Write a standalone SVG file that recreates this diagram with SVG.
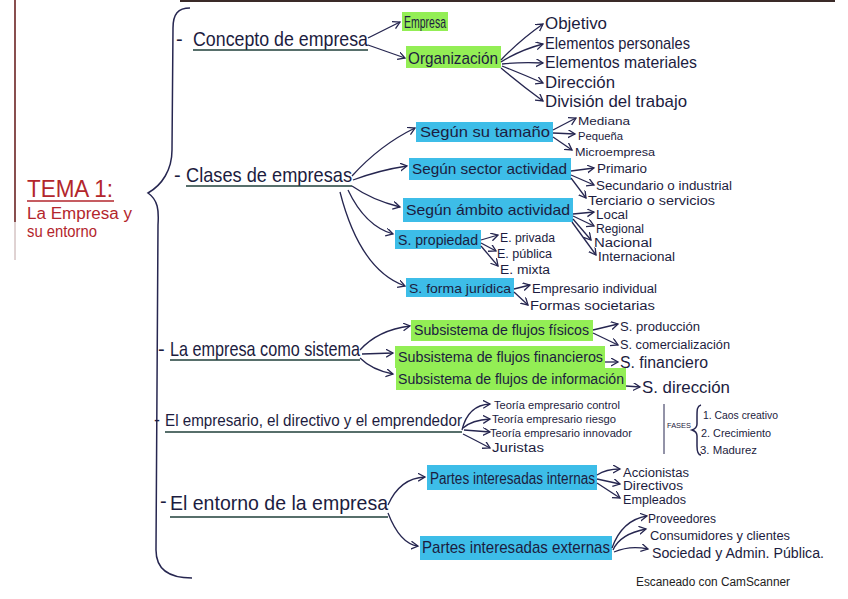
<svg xmlns="http://www.w3.org/2000/svg" width="848" height="599" viewBox="0 0 848 599">
<defs>
<marker id="ah" markerUnits="userSpaceOnUse" markerWidth="10" markerHeight="10" refX="7" refY="4" orient="auto">
<path d="M0,0 L7,4 L0,8" fill="none" stroke="#262650" stroke-width="1.3"/>
</marker>
<style>
text{font-family:"Liberation Sans","DejaVu Sans",sans-serif;fill:#1c1c40}
.l1{font-size:21px}
.red{fill:#b3262c}
.hg{fill:#93ee55}
.hb{fill:#3dbde8}
.c path{fill:none;stroke:#262650;stroke-width:1.3;marker-end:url(#ah)}
.ul{stroke:#1f3f3a;stroke-width:1.6}
.br{fill:none;stroke:#262650;stroke-width:1.5}
</style>
</defs>
<rect width="848" height="599" fill="#ffffff"/>
<rect x="180" y="0" width="655" height="2" fill="#3a2a28"/>
<line x1="15" y1="0" x2="15" y2="222" stroke="#6b2222" stroke-width="1.6"/>
<line x1="15" y1="222" x2="15" y2="260" stroke="#b09090" stroke-width="0.8"/>

<g id="title">
<text x="27" y="197" class="red" font-size="24" textLength="86" lengthAdjust="spacingAndGlyphs">TEMA 1:</text>
<line x1="27" y1="201" x2="114" y2="201" stroke="#b3262c" stroke-width="1.3"/>
<text x="27" y="219" class="red" font-size="16" textLength="105" lengthAdjust="spacingAndGlyphs">La Empresa y</text>
<text x="27" y="237" class="red" font-size="16" textLength="70" lengthAdjust="spacingAndGlyphs">su entorno</text>
</g>

<g id="brace">
<path class="br" d="M190 8 C178 8 173 14 173 28 L172 150 C172 170 162 185 148 193 C158 200 159 210 158 225 L156 550 C156 570 170 578 192 578"/>
</g>

<g id="concepto">
<text x="176" y="46" font-size="20">-</text>
<text x="193" y="46" class="l1" textLength="175" lengthAdjust="spacingAndGlyphs">Concepto de empresa</text>
<line class="ul" x1="193" y1="50" x2="368" y2="50"/>
</g>
<g id="empresa"><rect class="hg" x="402" y="12" width="46" height="19"/><text x="404" y="28" font-size="17" textLength="42" lengthAdjust="spacingAndGlyphs">Empresa</text></g>
<g id="organizacion"><rect class="hg" x="406" y="46" width="95" height="22"/><text x="408" y="64" font-size="17" textLength="90" lengthAdjust="spacingAndGlyphs">Organización</text></g>
<g id="objetivo"><text x="545" y="29" font-size="17" textLength="62" lengthAdjust="spacingAndGlyphs">Objetivo</text></g>
<g id="elem-personales"><text x="545" y="49" font-size="17" textLength="145" lengthAdjust="spacingAndGlyphs">Elementos personales</text></g>
<g id="elem-materiales"><text x="545" y="68" font-size="17" textLength="152" lengthAdjust="spacingAndGlyphs">Elementos materiales</text></g>
<g id="direccion"><text x="545" y="88" font-size="17" textLength="70" lengthAdjust="spacingAndGlyphs">Dirección</text></g>
<g id="division"><text x="545" y="107" font-size="17" textLength="142" lengthAdjust="spacingAndGlyphs">División del trabajo</text></g>

<g id="clases">
<text x="174" y="182" font-size="20">-</text>
<text x="186" y="182" class="l1" textLength="166" lengthAdjust="spacingAndGlyphs">Clases de empresas</text>
<line class="ul" x1="186" y1="186" x2="352" y2="186"/>
</g>
<g id="tamano"><rect class="hb" x="416" y="122" width="137" height="20"/><text x="420" y="137" font-size="15" textLength="130" lengthAdjust="spacingAndGlyphs">Según su tamaño</text></g>
<g id="mediana"><text x="578" y="125" font-size="11" textLength="52" lengthAdjust="spacingAndGlyphs">Mediana</text></g>
<g id="pequena"><text x="578" y="140" font-size="11" textLength="45" lengthAdjust="spacingAndGlyphs">Pequeña</text></g>
<g id="micro"><text x="575" y="156" font-size="11" textLength="80" lengthAdjust="spacingAndGlyphs">Microempresa</text></g>
<g id="sector"><rect class="hb" x="409" y="158" width="162" height="22"/><text x="412" y="174" font-size="15" textLength="155" lengthAdjust="spacingAndGlyphs">Según sector actividad</text></g>
<g id="primario"><text x="597" y="173" font-size="12" textLength="50" lengthAdjust="spacingAndGlyphs">Primario</text></g>
<g id="secundario"><text x="596" y="190" font-size="12" textLength="136" lengthAdjust="spacingAndGlyphs">Secundario o industrial</text></g>
<g id="terciario"><text x="588" y="205" font-size="12" textLength="127" lengthAdjust="spacingAndGlyphs">Terciario o servicios</text></g>
<g id="ambito"><rect class="hb" x="403" y="198" width="170" height="24"/><text x="406" y="215" font-size="15" textLength="164" lengthAdjust="spacingAndGlyphs">Según ámbito actividad</text></g>
<g id="local"><text x="596" y="219" font-size="12" textLength="32" lengthAdjust="spacingAndGlyphs">Local</text></g>
<g id="regional"><text x="596" y="233" font-size="12" textLength="48" lengthAdjust="spacingAndGlyphs">Regional</text></g>
<g id="nacional"><text x="594" y="247" font-size="12" textLength="58" lengthAdjust="spacingAndGlyphs">Nacional</text></g>
<g id="internacional"><text x="598" y="261" font-size="12" textLength="77" lengthAdjust="spacingAndGlyphs">Internacional</text></g>
<g id="propiedad"><rect class="hb" x="395" y="230" width="86" height="19"/><text x="398" y="245" font-size="14" textLength="80" lengthAdjust="spacingAndGlyphs">S. propiedad</text></g>
<g id="privada"><text x="500" y="242" font-size="12" textLength="55" lengthAdjust="spacingAndGlyphs">E. privada</text></g>
<g id="publica"><text x="497" y="258" font-size="12" textLength="55" lengthAdjust="spacingAndGlyphs">E. pública</text></g>
<g id="mixta"><text x="500" y="274" font-size="12" textLength="50" lengthAdjust="spacingAndGlyphs">E. mixta</text></g>
<g id="juridica"><rect class="hb" x="406" y="278" width="108" height="19"/><text x="409" y="293" font-size="13" textLength="102" lengthAdjust="spacingAndGlyphs">S. forma jurídica</text></g>
<g id="individual"><text x="532" y="293" font-size="12" textLength="125" lengthAdjust="spacingAndGlyphs">Empresario individual</text></g>
<g id="societarias"><text x="530" y="310" font-size="12" textLength="125" lengthAdjust="spacingAndGlyphs">Formas societarias</text></g>

<g id="sistema">
<text x="158" y="356" font-size="20">-</text>
<text x="170" y="356" class="l1" textLength="190" lengthAdjust="spacingAndGlyphs">La empresa como sistema</text>
<line class="ul" x1="170" y1="360" x2="360" y2="360"/>
</g>
<g id="fisicos"><rect class="hg" x="411" y="320" width="182" height="21"/><text x="414" y="335" font-size="14" textLength="175" lengthAdjust="spacingAndGlyphs">Subsistema de flujos físicos</text></g>
<g id="produccion"><text x="620" y="331" font-size="13" textLength="80" lengthAdjust="spacingAndGlyphs">S. producción</text></g>
<g id="comercializacion"><text x="620" y="349" font-size="12" textLength="110" lengthAdjust="spacingAndGlyphs">S. comercialización</text></g>
<g id="financieros"><rect class="hg" x="395" y="346" width="210" height="22"/><text x="398" y="362" font-size="15" textLength="205" lengthAdjust="spacingAndGlyphs">Subsistema de flujos financieros</text></g>
<g id="financiero"><text x="620" y="368" font-size="16" textLength="88" lengthAdjust="spacingAndGlyphs">S. financiero</text></g>
<g id="informacion"><rect class="hg" x="396" y="368" width="230" height="22"/><text x="398" y="384" font-size="14" textLength="226" lengthAdjust="spacingAndGlyphs">Subsistema de flujos de información</text></g>
<g id="s-direccion"><text x="642" y="393" font-size="17" textLength="88" lengthAdjust="spacingAndGlyphs">S. dirección</text></g>

<g id="empresario">
<text x="154" y="426" font-size="18">-</text>
<text x="165" y="426" font-size="16" textLength="297" lengthAdjust="spacingAndGlyphs">El empresario, el directivo y el emprendedor</text>
<line class="ul" x1="165" y1="432" x2="462" y2="432"/>
</g>
<g id="control"><text x="494" y="409" font-size="11" textLength="126" lengthAdjust="spacingAndGlyphs">Teoría empresario control</text></g>
<g id="riesgo"><text x="492" y="423" font-size="11" textLength="124" lengthAdjust="spacingAndGlyphs">Teoría empresario riesgo</text></g>
<g id="innovador"><text x="490" y="437" font-size="11" textLength="142" lengthAdjust="spacingAndGlyphs">Teoría empresario innovador</text></g>
<g id="juristas"><text x="492" y="452" font-size="12" textLength="52" lengthAdjust="spacingAndGlyphs">Juristas</text></g>
<g id="fases">
<line x1="664" y1="404" x2="664" y2="454" stroke="#262650" stroke-width="1"/>
<text x="667" y="428" font-size="8" textLength="24" lengthAdjust="spacingAndGlyphs">FASES</text>
<path class="br" stroke-width="1.1" d="M701 405 C697 406 697 410 697 416 L697 424 C697 428 695 429 692 430 C695 431 697 432 697 436 L697 446 C697 452 698 455 701 455"/>
<text x="703" y="419" font-size="11" textLength="75" lengthAdjust="spacingAndGlyphs">1. Caos creativo</text>
<text x="701" y="437" font-size="11" textLength="70" lengthAdjust="spacingAndGlyphs">2. Crecimiento</text>
<text x="700" y="454" font-size="11" textLength="57" lengthAdjust="spacingAndGlyphs">3. Madurez</text>
</g>

<g id="entorno">
<text x="160" y="508" font-size="20">-</text>
<text x="170" y="510" class="l1" textLength="218" lengthAdjust="spacingAndGlyphs">El entorno de la empresa</text>
<line class="ul" x1="170" y1="517" x2="388" y2="517"/>
</g>
<g id="internas"><rect class="hb" x="427" y="465" width="170" height="25"/><text x="430" y="484" font-size="16" textLength="165" lengthAdjust="spacingAndGlyphs">Partes interesadas internas</text></g>
<g id="accionistas"><text x="623" y="477" font-size="12" textLength="66" lengthAdjust="spacingAndGlyphs">Accionistas</text></g>
<g id="directivos"><text x="623" y="490" font-size="12" textLength="60" lengthAdjust="spacingAndGlyphs">Directivos</text></g>
<g id="empleados"><text x="623" y="504" font-size="12" textLength="63" lengthAdjust="spacingAndGlyphs">Empleados</text></g>
<g id="externas"><rect class="hb" x="420" y="536" width="192" height="24"/><text x="422" y="553" font-size="17" textLength="188" lengthAdjust="spacingAndGlyphs">Partes interesadas externas</text></g>
<g id="proveedores"><text x="648" y="523" font-size="13" textLength="68" lengthAdjust="spacingAndGlyphs">Proveedores</text></g>
<g id="consumidores"><text x="650" y="540" font-size="13" textLength="140" lengthAdjust="spacingAndGlyphs">Consumidores y clientes</text></g>
<g id="sociedad"><text x="652" y="558" font-size="14" textLength="172" lengthAdjust="spacingAndGlyphs">Sociedad y Admin. Pública.</text></g>

<g id="connectors" class="c">
<path d="M368 38 L400 22"/>
<path d="M368 45 L405 58"/>
<path d="M501 60 Q520 40 543 24"/>
<path d="M501 62 Q520 50 543 44"/>
<path d="M502 64 Q520 62 543 63"/>
<path d="M502 66 Q522 74 543 83"/>
<path d="M501 68 Q520 84 543 101"/>
<path d="M352 176 Q380 145 415 128"/>
<path d="M353 180 Q380 170 407 166"/>
<path d="M352 186 Q372 200 400 207"/>
<path d="M348 190 Q365 226 393 234"/>
<path d="M340 192 Q360 270 405 286"/>
<path d="M553 130 L576 118"/>
<path d="M553 133 L575 134"/>
<path d="M553 137 L572 150"/>
<path d="M571 171 L594 168"/>
<path d="M571 175 L594 185"/>
<path d="M571 178 L586 198"/>
<path d="M573 214 L594 212"/>
<path d="M573 216 L594 226"/>
<path d="M573 219 L591 240"/>
<path d="M572 222 L596 255"/>
<path d="M481 240 L498 235"/>
<path d="M481 243 L496 251"/>
<path d="M481 246 L498 266"/>
<path d="M514 289 L530 285"/>
<path d="M514 292 L528 305"/>
<path d="M360 350 Q378 330 410 326"/>
<path d="M362 354 L393 353"/>
<path d="M360 358 Q372 370 393 374"/>
<path d="M593 330 L618 324"/>
<path d="M593 333 L618 345"/>
<path d="M605 362 L618 362"/>
<path d="M626 386 L640 387"/>
<path d="M462 430 Q468 405 490 404"/>
<path d="M463 428 Q472 420 490 419"/>
<path d="M464 430 L490 432"/>
<path d="M463 434 Q475 440 490 448"/>
<path d="M388 505 Q400 478 425 477"/>
<path d="M388 513 Q400 544 418 546"/>
<path d="M597 475 Q606 469 620 469"/>
<path d="M597 479 L620 484"/>
<path d="M597 483 L620 498"/>
<path d="M612 548 Q622 520 647 516"/>
<path d="M613 550 Q620 534 646 529"/>
<path d="M614 552 Q630 545 648 549"/>
</g>

<text x="636" y="586" font-size="12" textLength="154" lengthAdjust="spacingAndGlyphs" style="fill:#222222">Escaneado con CamScanner</text>
</svg>
